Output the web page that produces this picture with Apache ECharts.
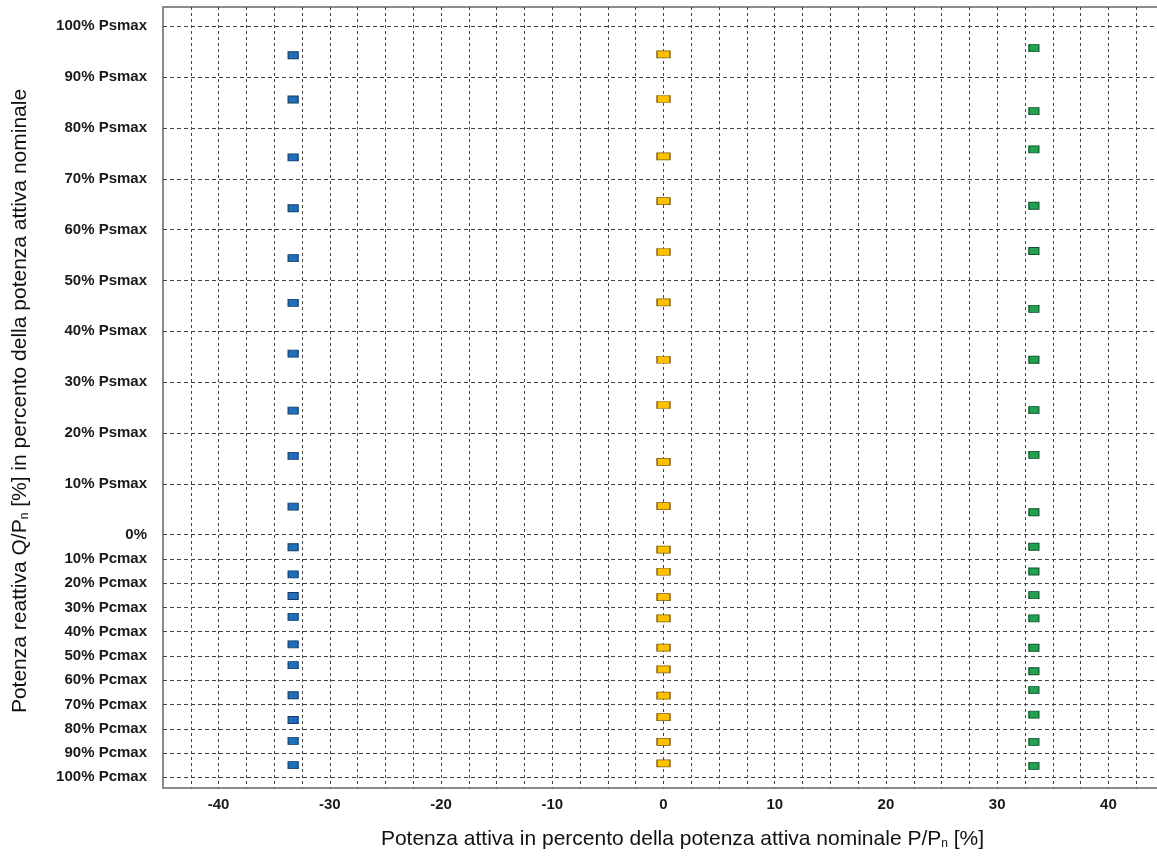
<!DOCTYPE html>
<html><head><meta charset="utf-8">
<script src="https://cdn.jsdelivr.net/npm/echarts@6/dist/echarts.min.js"></script>
<style>html,body{margin:0;padding:0;background:#fff;overflow:hidden}#c{width:1170px;height:856px}</style>
</head><body><div id="c"></div>
<script>
// Active power (x) of each series, % of nominal
const pBlue = -33.3;
const pYellow = 0;
const pGreen = 33.3;
// Reactive power (y): positive = % Psmax, negative = % Pcmax
const qBlue = [94.3, 85.6, 74.2, 64.2, 54.4, 45.6, 35.6, 24.4, 15.5, 5.5,
  -5.2, -16.4, -25.3, -33.9, -45.2, -53.8, -66.2, -76.4, -85.0, -95.0];
const qYellow = [94.5, 85.7, 74.4, 65.6, 55.6, 45.7, 34.4, 25.5, 14.3, 5.6,
  -6.2, -15.3, -25.8, -34.5, -46.6, -55.5, -66.3, -75.2, -85.4, -94.3];
const qGreen = [95.7, 83.3, 75.8, 64.7, 55.8, 44.4, 34.4, 24.5, 15.7, 4.4,
  -5.0, -15.2, -24.9, -34.5, -46.6, -56.3, -64.1, -74.2, -85.4, -95.3];
// Tick labels
const yTickValues = [100, 90, 80, 70, 60, 50, 40, 30, 20, 10, 0,
  -10, -20, -30, -40, -50, -60, -70, -80, -90, -100];
const xTickLabels = [-40, -30, -20, -10, 0, 10, 20, 30, 40];

// The lower (Pcmax) half of the y axis is drawn compressed
const K = 0.4775;
const yMap = q => (q >= 0 ? q : q * K);
const yLabel = q => (q === 0 ? '0%' : (q > 0 ? q + '% Psmax' : (-q) + '% Pcmax'));
const yCustom = yTickValues.map(yMap);
const labelByY = {};
yTickValues.forEach(q => { labelByY[yMap(q).toFixed(4)] = yLabel(q); });

const mk = (p, qs) => qs.map(q => [p, yMap(q)]);

const chart = echarts.init(document.getElementById('c'), null, { renderer: 'canvas' });
chart.setOption({
  backgroundColor: '#fff',
  animation: false,
  grid: { left: 163, top: 7, right: 6, bottom: 68, show: true, borderColor: '#8c8c8c', borderWidth: 2, backgroundColor: 'transparent' },
  xAxis: {
    type: 'value', min: -45, max: 45, interval: 2.5,
    axisLine: { show: false }, axisTick: { show: false },
    axisLabel: {
      margin: 9, fontFamily: 'Liberation Sans', fontWeight: 'bold', fontSize: 15, color: '#1a1a1a',
      formatter: v => (xTickLabels.indexOf(Math.round(v * 100) / 100) >= 0 ? String(v) : '')
    },
    splitLine: { show: true, showMinLine: false, lineStyle: { color: '#444', width: 1, type: [3, 3] } },
    name: 'Potenza attiva in percento della potenza attiva nominale P/P{sub|n} [%]',
    nameLocation: 'middle', nameGap: 41,
    nameTextStyle: {
      fontFamily: 'Liberation Sans', fontSize: 21, color: '#111', padding: [0, 0, 0, 38],
      rich: { sub: { fontFamily: 'Liberation Sans', fontSize: 12, color: '#111', verticalAlign: 'bottom', padding: [9, 0, 0, 0] } }
    }
  },
  yAxis: {
    type: 'value', min: yMap(-104.4), max: 103.8,
    axisLine: { show: false },
    axisTick: { show: false, customValues: yCustom },
    axisLabel: {
      customValues: yCustom, margin: 16,
      fontFamily: 'Liberation Sans', fontWeight: 'bold', fontSize: 15, color: '#1a1a1a',
      formatter: v => labelByY[Number(v).toFixed(4)] || ''
    },
    splitLine: { show: true, lineStyle: { color: '#444', width: 1, type: [4, 3] } },
    name: 'Potenza reattiva Q/P{sub|n} [%] in percento della potenza attiva nominale',
    nameLocation: 'middle', nameRotate: 90, nameGap: 132,
    nameTextStyle: {
      fontFamily: 'Liberation Sans', fontSize: 21, color: '#111', padding: [0, 7, 0, 0],
      rich: { sub: { fontFamily: 'Liberation Sans', fontSize: 12, color: '#111', verticalAlign: 'bottom', padding: [9, 0, 0, 0] } }
    }
  },
  series: [
    { type: 'scatter', symbol: 'rect', symbolSize: [10, 7], data: mk(pBlue, qBlue),
      itemStyle: { color: '#1f6fbf', borderColor: '#123a60', borderWidth: 1, opacity: 1 } },
    { type: 'scatter', symbol: 'rect', symbolSize: [13, 7], data: mk(pYellow, qYellow),
      itemStyle: { color: '#ffc000', borderColor: '#7a5c08', borderWidth: 1, opacity: 1 } },
    { type: 'scatter', symbol: 'rect', symbolSize: [10, 7], data: mk(pGreen, qGreen),
      itemStyle: { color: '#1fa352', borderColor: '#0e4f28', borderWidth: 1, opacity: 1 } }
  ]
});
</script></body></html>
